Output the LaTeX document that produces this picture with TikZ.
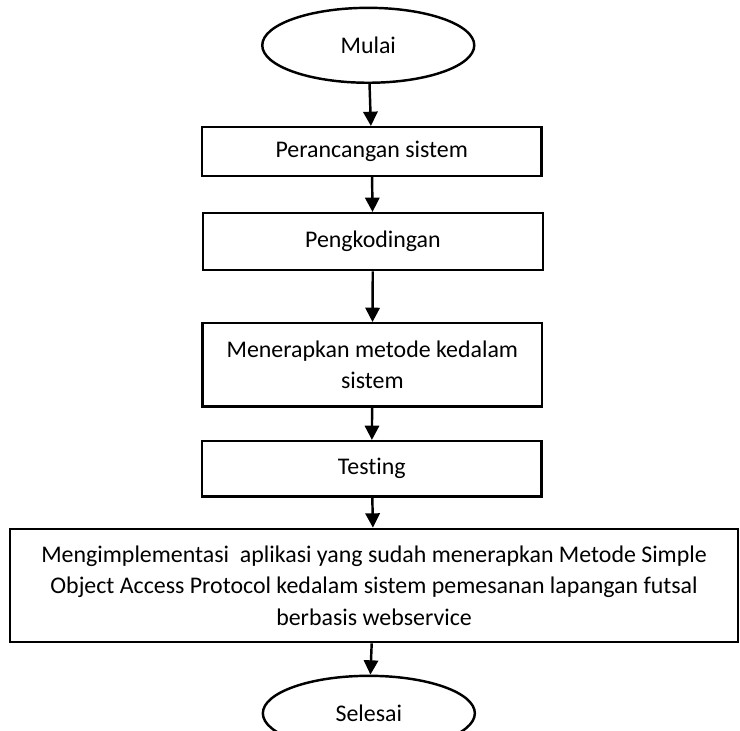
\documentclass[tikz,border=0pt]{standalone}
\usepackage{fontspec}
\setmainfont{Carlito}[Ligatures=NoCommon]
\usepackage{tikz}
\usetikzlibrary{shapes,calc,positioning,arrows.meta,shapes.geometric}

\tikzset{
  terminal/.style={ellipse, draw, line width=1.2pt, minimum width=3.65cm, minimum height=1.29cm, inner sep=0pt},
  process/.style={rectangle, draw, line width=1.2pt, minimum width=5.85cm, inner sep=0pt, align=center},
  flow/.style={-{Triangle[width=7pt,length=7pt]}, line width=1.2pt}
}

\begin{document}
\begin{tikzpicture}[font=\fontsize{11.7}{15.5}\selectfont]
                    \useasboundingbox (0,0) rectangle (12.74,-12.57);
                    % start and steps
                    \node[terminal] (mulai) at (6.34,-0.78) {Mulai};
                    \node[process, minimum height=0.84cm] (rancang) at (6.40,-2.61) {Perancangan sistem};
                    \node[process, minimum height=0.98cm] (koding) at (6.42,-4.16) {Pengkodingan};
                    \node[process, minimum height=1.43cm] (metode) at (6.41,-6.28) {Menerapkan metode kedalam\\sistem};
                    \node[process, minimum height=0.95cm] (testing) at (6.40,-8.07) {Testing};
                    \node[process, minimum width=12.54cm, minimum height=1.95cm] (implementasi) at (6.44,-10.08) {Mengimplementasi\ \ aplikasi yang sudah menerapkan Metode Simple\\Object Access Protocol kedalam sistem pemesanan lapangan futsal\\berbasis webservice};
                    \node[terminal] (selesai) at (6.35,-12.28) {Selesai};
                    % connectors
                    \draw[flow] (mulai) -- (rancang);
                    \draw[flow] (rancang) -- (koding);
                    \draw[flow] (koding) -- (metode);
                    \draw[flow] (metode) -- (testing);
                    \draw[flow] (testing) -- (implementasi);
                    \draw[flow] (implementasi) -- (selesai);
                \end{tikzpicture}
\end{document}
